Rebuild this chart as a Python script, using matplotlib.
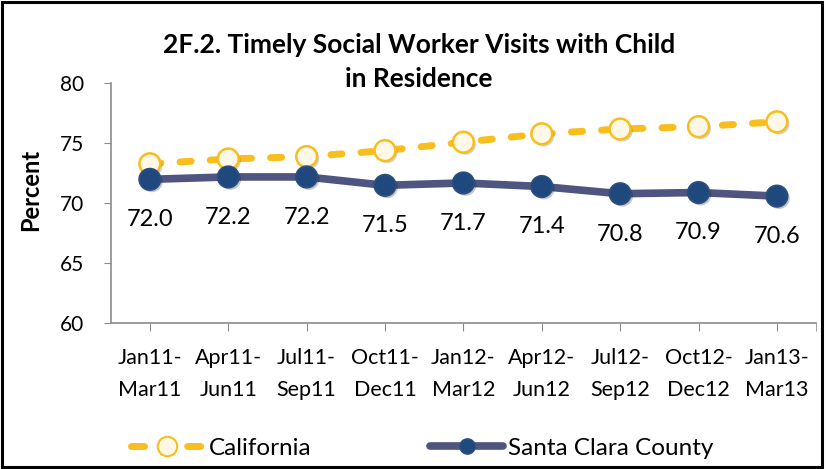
import matplotlib
matplotlib.use('Agg')
import matplotlib.pyplot as plt
import matplotlib.patheffects as pe
from matplotlib.lines import Line2D
from matplotlib.patches import Rectangle

plt.rcParams['font.family'] = ['Lato', 'DejaVu Sans']

quarters = ['Jan11-\nMar11', 'Apr11-\nJun11', 'Jul11-\nSep11', 'Oct11-\nDec11',
            'Jan12-\nMar12', 'Apr12-\nJun12', 'Jul12-\nSep12', 'Oct12-\nDec12',
            'Jan13-\nMar13']
california = [73.3, 73.7, 73.9, 74.4, 75.1, 75.8, 76.2, 76.4, 76.8]
santa_clara = [72.0, 72.2, 72.2, 71.5, 71.7, 71.4, 70.8, 70.9, 70.6]
y_ticks = [60, 65, 70, 75, 80]

gold = '#F7BE1E'
cream = '#FFF8E6'
navy_line = '#4D5580'
navy_dot = '#1F497D'
grey = '#8C8C8C'

fig = plt.figure(figsize=(8.26, 4.69), dpi=100)
ax = fig.add_axes([0.134, 0.311, 0.854, 0.511])

x = list(range(len(quarters)))
shadow = [pe.SimplePatchShadow(offset=(1.5, -1.5), alpha=0.25), pe.Normal()]

ax.plot(x, california, color=gold, lw=5, ls=(0, (1.6, 2.75)),
        dash_capstyle='round', zorder=2)
ax.plot(x, california, ls='none', marker='o', ms=15, mfc=cream, mec=gold,
        mew=1.8, zorder=3, path_effects=shadow)
ax.plot(x, santa_clara, color=navy_line, lw=5.5, solid_capstyle='round', zorder=2)
ax.plot(x, santa_clara, ls='none', marker='o', ms=15.5, mfc=navy_dot,
        mec='#2E4E80', mew=1.2, zorder=3, path_effects=shadow)

for xi, v in zip(x, santa_clara):
    ax.annotate(f'{v:.1f}', (xi, v), xytext=(0, -29), textcoords='offset points',
                ha='center', va='center', fontsize=17, color='black')

ax.set_xlim(-0.5, 8.5)
ax.set_ylim(60, 80)
ax.set_yticks(y_ticks)
ax.set_xticks(x)
ax.set_xticklabels(quarters, fontsize=15.5, linespacing=1.72)
ax.set_xticks([8.5], minor=True)
ax.tick_params(axis='y', labelsize=15, length=5, color=grey, pad=14)
ax.tick_params(axis='x', which='both', length=6, color=grey, pad=12)

for s in ['top', 'right']:
    ax.spines[s].set_visible(False)
for s in ['left', 'bottom']:
    ax.spines[s].set_color(grey)
    ax.spines[s].set_linewidth(1.2)

ax.set_ylabel('Percent', fontsize=17, fontweight='bold')
ax.yaxis.set_label_coords(-0.097, 0.555)

fig.text(0.507, 0.868, '2F.2. Timely Social Worker Visits with Child\nin Residence',
         ha='center', va='center', fontsize=19, fontweight='bold', linespacing=1.5)

handles = [
    Line2D([], [], color=gold, lw=5, ls=(0, (1.88, 6.2)), dash_capstyle='round',
           marker='o', ms=14, mfc=cream, mec=gold, mew=1.5),
    Line2D([], [], color=navy_line, lw=5.5, solid_capstyle='round',
           marker='o', ms=11, mfc=navy_dot, mec='#2E4E80', mew=1),
]
fig.legend(handles, ['California', 'Santa Clara County'], loc='center',
           bbox_to_anchor=(0.511, 0.044), ncol=2, frameon=False, fontsize=17.5,
           handlelength=3.0, handletextpad=0.2, columnspacing=4.9)

fig.patches.append(Rectangle((0.003, 0.004), 0.992, 0.991, transform=fig.transFigure,
                             fill=False, edgecolor='black', lw=2.2))

fig.savefig('out.png', dpi=100)
